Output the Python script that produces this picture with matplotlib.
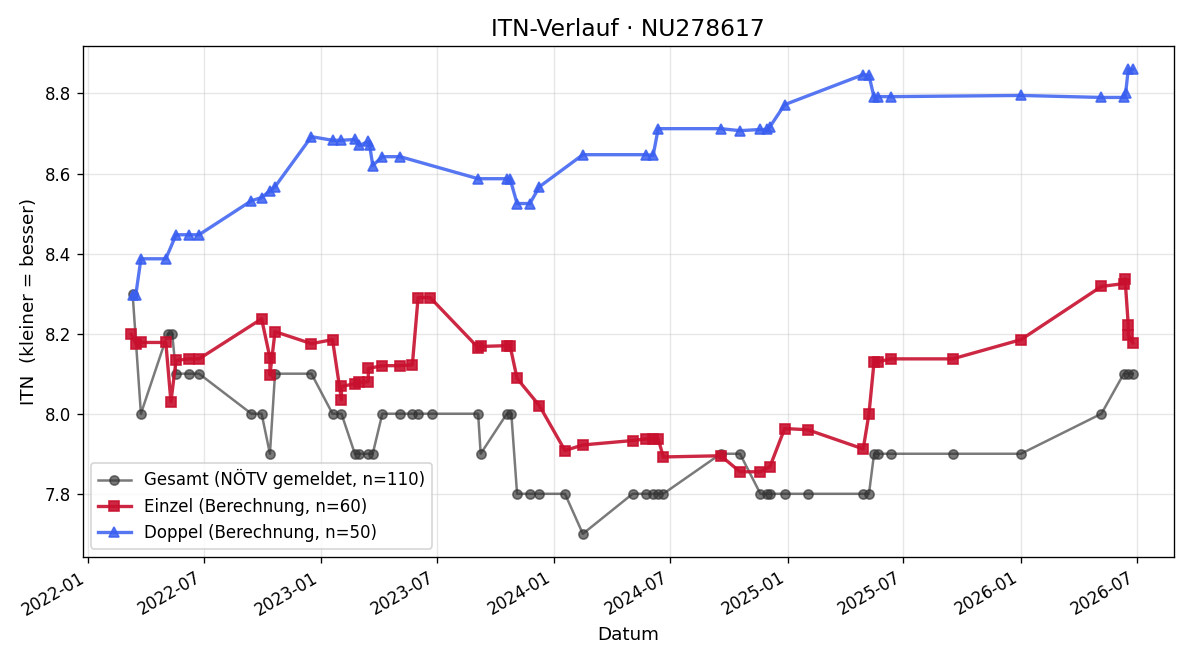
import numpy as np
import pandas as pd
import matplotlib
matplotlib.use("Agg")
import matplotlib.pyplot as plt
import matplotlib.dates as mdates

gesamt_dates = ["2022-03-12", "2022-03-25", "2022-05-06", "2022-05-13", "2022-05-19",
                "2022-06-08", "2022-06-24", "2022-09-14", "2022-09-30", "2022-10-13",
                "2022-10-21", "2022-12-17", "2023-01-19", "2023-02-02", "2023-02-23",
                "2023-03-02", "2023-03-16", "2023-03-23", "2023-04-07", "2023-05-05",
                "2023-05-24", "2023-06-02", "2023-06-24", "2023-09-04", "2023-09-08",
                "2023-10-19", "2023-10-26", "2023-11-04", "2023-11-24", "2023-12-09",
                "2024-01-18", "2024-02-15", "2024-05-03", "2024-05-24", "2024-06-04",
                "2024-06-12", "2024-06-20", "2024-09-18", "2024-10-18", "2024-11-19",
                "2024-11-30", "2024-12-04", "2024-12-27", "2025-02-01", "2025-04-29",
                "2025-05-08", "2025-05-16", "2025-05-22", "2025-06-12", "2025-09-16",
                "2026-01-01", "2026-05-07", "2026-06-11", "2026-06-18", "2026-06-25"]
gesamt_itn = [8.30, 8.00, 8.20, 8.20, 8.10,
              8.10, 8.10, 8.00, 8.00, 7.90,
              8.10, 8.10, 8.00, 8.00, 7.90,
              7.90, 7.90, 7.90, 8.00, 8.00,
              8.00, 8.00, 8.00, 8.00, 7.90,
              8.00, 8.00, 7.80, 7.80, 7.80,
              7.80, 7.70, 7.80, 7.80, 7.80,
              7.80, 7.80, 7.90, 7.90, 7.80,
              7.80, 7.80, 7.80, 7.80, 7.80,
              7.80, 7.90, 7.90, 7.90, 7.90,
              7.90, 8.00, 8.10, 8.10, 8.10]

einzel_dates = ["2022-03-10", "2022-03-17", "2022-03-25", "2022-05-03", "2022-05-11",
                "2022-05-19", "2022-06-08", "2022-06-24", "2022-09-30", "2022-10-13",
                "2022-10-13", "2022-10-21", "2022-12-17", "2023-01-19", "2023-02-02",
                "2023-02-02", "2023-02-23", "2023-03-02", "2023-03-16", "2023-03-16",
                "2023-04-07", "2023-05-05", "2023-05-24", "2023-06-02", "2023-06-21",
                "2023-09-04", "2023-09-08", "2023-10-19", "2023-10-24", "2023-11-04",
                "2023-12-09", "2024-01-18", "2024-02-15", "2024-05-03", "2024-05-24",
                "2024-06-04", "2024-06-12", "2024-06-20", "2024-09-18", "2024-10-18",
                "2024-11-19", "2024-12-04", "2024-12-27", "2025-02-01", "2025-04-29",
                "2025-05-08", "2025-05-16", "2025-05-22", "2025-06-12", "2025-09-16",
                "2026-01-01", "2026-05-07", "2026-06-11", "2026-06-13", "2026-06-18",
                "2026-06-18", "2026-06-25"]
einzel_itn = [8.198, 8.175, 8.178, 8.178, 8.030,
              8.133, 8.137, 8.137, 8.237, 8.140,
              8.097, 8.205, 8.175, 8.185, 8.035,
              8.068, 8.075, 8.078, 8.080, 8.113,
              8.120, 8.120, 8.122, 8.290, 8.290,
              8.165, 8.168, 8.170, 8.170, 8.088,
              8.020, 7.908, 7.922, 7.933, 7.937,
              7.937, 7.937, 7.892, 7.895, 7.855,
              7.855, 7.868, 7.963, 7.960, 7.912,
              8.000, 8.130, 8.130, 8.137, 8.137,
              8.185, 8.318, 8.325, 8.337, 8.222,
              8.197, 8.177]

doppel_dates = ["2022-03-12", "2022-03-17", "2022-03-25", "2022-05-03", "2022-05-19",
                "2022-06-08", "2022-06-24", "2022-09-14", "2022-09-30", "2022-10-13",
                "2022-10-21", "2022-12-17", "2023-01-19", "2023-02-02", "2023-02-23",
                "2023-03-02", "2023-03-16", "2023-03-18", "2023-03-23", "2023-04-07",
                "2023-05-05", "2023-09-04", "2023-10-19", "2023-10-24", "2023-11-04",
                "2023-11-24", "2023-12-09", "2024-02-15", "2024-05-24", "2024-06-04",
                "2024-06-12", "2024-09-18", "2024-10-18", "2024-11-19", "2024-11-30",
                "2024-12-04", "2024-12-27", "2025-04-29", "2025-05-08", "2025-05-16",
                "2025-05-22", "2025-06-12", "2026-01-01", "2026-05-07", "2026-06-11",
                "2026-06-14", "2026-06-18", "2026-06-25"]
doppel_itn = [8.297, 8.297, 8.387, 8.387, 8.447,
              8.447, 8.447, 8.532, 8.540, 8.557,
              8.567, 8.692, 8.683, 8.683, 8.685,
              8.670, 8.680, 8.672, 8.620, 8.642,
              8.642, 8.587, 8.587, 8.587, 8.525,
              8.525, 8.567, 8.647, 8.647, 8.645,
              8.712, 8.712, 8.707, 8.710, 8.710,
              8.717, 8.772, 8.847, 8.845, 8.790,
              8.792, 8.792, 8.795, 8.790, 8.790,
              8.802, 8.860, 8.860]

fig, ax = plt.subplots(figsize=(10, 5.5), dpi=120)

ax.plot(pd.to_datetime(gesamt_dates), gesamt_itn, marker='o', ms=5.5, lw=1.5,
        color='#333333', alpha=0.65, label="Gesamt (NÖTV gemeldet, n=110)")
ax.plot(pd.to_datetime(einzel_dates), einzel_itn, marker='s', ms=6.5, lw=2,
        color='#c8102e', alpha=0.9, label="Einzel (Berechnung, n=60)")
ax.plot(pd.to_datetime(doppel_dates), doppel_itn, marker='^', ms=6.5, lw=2,
        color='#3a5ff0', alpha=0.85, label="Doppel (Berechnung, n=50)")

ax.set_xlim(pd.Timestamp("2021-12-24"), pd.Timestamp("2026-08-28"))
ax.xaxis.set_major_locator(mdates.MonthLocator(bymonth=[1, 7]))
ax.xaxis.set_major_formatter(mdates.DateFormatter('%Y-%m'))
fig.autofmt_xdate()

ax.grid(True, alpha=0.3)
ax.set_title("ITN-Verlauf · NU278617", fontsize=14)
ax.set_xlabel("Datum", fontsize=11)
ax.set_ylabel("ITN  (kleiner = besser)", fontsize=11)
ax.legend(loc='lower left', fontsize=10)

fig.subplots_adjust(left=0.069, right=0.978, top=0.930, bottom=0.156)
fig.savefig("out.png")
